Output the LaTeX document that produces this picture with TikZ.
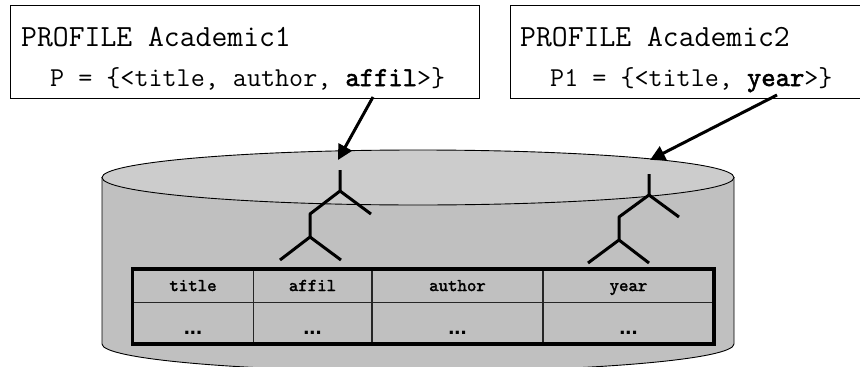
\documentclass[tikz,border=0pt]{standalone}
\usepackage{fontspec}
\setmainfont{Liberation Sans}
\newfontfamily\heavymono[FakeBold=2]{lmmono10-regular.otf}
\usetikzlibrary{arrows.meta}
\definecolor{cylbody}{HTML}{C0C0C0}
\definecolor{cyltop}{HTML}{CCCCCC}
\tikzset{
  profilebox/.style={draw=black,line width=0.9pt,fill=white,inner sep=0pt,anchor=north west},
  headtext/.style={inner sep=0pt,anchor=base west,font=\ttfamily\fontsize{30.8}{34}\selectfont},
  bodytext/.style={inner sep=0pt,anchor=base west,font=\ttfamily\fontsize{27.3}{31}\selectfont},
  celltext/.style={inner sep=0pt,anchor=base,font=\heavymono\fontsize{18}{20}\selectfont},
  dotstext/.style={inner sep=0pt,anchor=base,font=\bfseries\fontsize{22}{24}\selectfont},
  treeline/.style={line width=3pt,line cap=butt,line join=round},
  pointer/.style={line width=3pt,-{Triangle[length=15pt,width=15pt]}},
  outer/.style={line width=3.4pt,draw=black},
  inner/.style={line width=1.1pt,draw=black!85},
}
\begin{document}
\begin{tikzpicture}[x=1pt,y=-1pt]
\clip (0,0) rectangle (860,367);
\fill[white] (0,0) rectangle (860,367);
% cylinder
\draw[fill=cylbody,line width=0.9pt] (102,177.5) -- (102,344) arc[start angle=180,end angle=360,x radius=316,y radius=-27.5] -- (734,177.5) -- cycle;
\draw[fill=cyltop,line width=0.9pt] (418,177.5) ellipse[x radius=316,y radius=27.5];
% profile boxes
\node[profilebox,minimum width=469pt,minimum height=93pt] (boxa) at (10,5) {};
\node[profilebox,minimum width=370pt,minimum height=93pt] (boxb) at (510,5) {};
\node[headtext] (heada) at (21,46) {PROFILE Academic1};
\node[bodytext] (bodya) at (50,86) {P = \{<title, author, {\heavymono affil}>\}};
\node[headtext] (headb) at (520,46) {PROFILE Academic2};
\node[bodytext] (bodyb) at (550,86) {P1 = \{<title, {\heavymono year}>\}};
% table
\draw[inner] (132.5,302.7) -- (714,302.7);
\draw[inner] (253.7,269) -- (253.7,344);
\draw[inner] (372,269) -- (372,344);
\draw[inner] (543,269) -- (543,344);
\draw[outer] (132.5,269) rectangle (714,344);
\node[celltext] (c1) at (193,291) {title};
\node[celltext] (c2) at (312.5,291) {affil};
\node[celltext] (c3) at (457.5,291) {author};
\node[celltext] (c4) at (628.5,291) {year};
\node[dotstext] (d1) at (193,334) {...};
\node[dotstext] (d2) at (312.5,334) {...};
\node[dotstext] (d3) at (457.5,334) {...};
\node[dotstext] (d4) at (628.5,334) {...};
% trees
\coordinate (ta0) at (340,170); \coordinate (ta1) at (340,191);
\coordinate (ta2) at (310,214); \coordinate (ta3) at (371,214);
\coordinate (ta4) at (310,237); \coordinate (ta5) at (280,260); \coordinate (ta6) at (341,260);
\draw[treeline] (ta0) -- (ta1) -- (ta2) -- (ta4) -- (ta5);
\draw[treeline] (ta1) -- (ta3);
\draw[treeline] (ta4) -- (ta6);
\coordinate (tb0) at (649,174); \coordinate (tb1) at (649,195);
\coordinate (tb2) at (619,217); \coordinate (tb3) at (679,217);
\coordinate (tb4) at (619,240); \coordinate (tb5) at (588,263); \coordinate (tb6) at (649,263);
\draw[treeline] (tb0) -- (tb1) -- (tb2) -- (tb4) -- (tb5);
\draw[treeline] (tb1) -- (tb3);
\draw[treeline] (tb4) -- (tb6);
% pointers
\coordinate (pa0) at (373,97); \coordinate (pa1) at (338,160);
\coordinate (pb0) at (777,95); \coordinate (pb1) at (650,160);
\draw[pointer] (pa0) -- (pa1);
\draw[pointer] (pb0) -- (pb1);
\end{tikzpicture}
\end{document}
